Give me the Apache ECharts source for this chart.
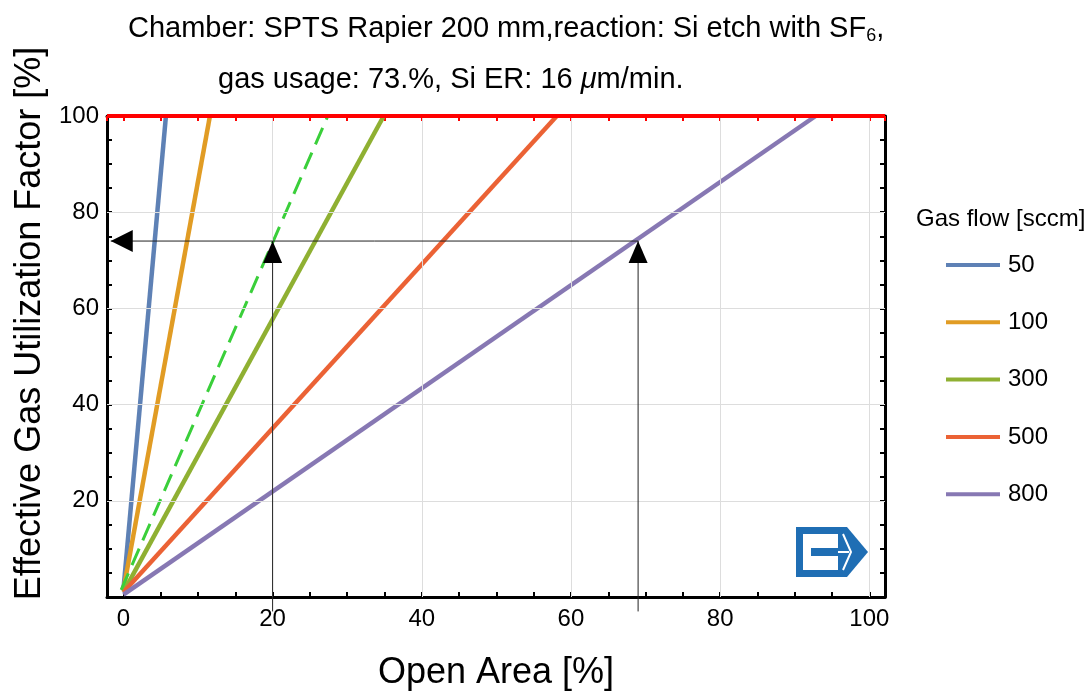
<!DOCTYPE html>
<html>
<head>
<meta charset="utf-8">
<script src="https://cdn.jsdelivr.net/npm/echarts@6/dist/echarts.min.js"></script>
<style>
  html, body { margin: 0; padding: 0; background: #fff; }
  #box1 { width: 1086px; height: 697px; }
</style>
</head>
<body>
<div id="box1"></div>
<script>
// gas flow lines: start at open area 0, reach 100 % at endX
var flowNames = ['50', '100', '300', '500', '800'];
var flowColors = ['#5E81B5', '#E19C24', '#8FB032', '#EB6235', '#8778B3'];
var startY = [1.5, 1.5, 1, 1, 0.5];
var endX = [5.7, 11.6, 34.9, 58.1, 92.8];

// dashed green line (73 % gas usage)
var dashedLine = [[-0.3, 1.5], [27.4, 100]];

// arrows: open area 20 % and 69 % at utilization 74 %
var arrowX = [20, 69];
var arrowY = 74;
var arrowLeftX = -1.7;

var xMin = -2.2, xMax = 102.1;
var xGrid = [20, 40, 60, 80, 100];
var yGrid = [20, 40, 60, 80];

var font = 'Liberation Sans, Arial, sans-serif';

var chartDom = document.getElementById('box1');
var myChart = echarts.init(chartDom);
var option;

var series = flowNames.map(function (name, i) {
    return {
        name: name,
        type: 'line',
        color: flowColors[i],
        showSymbol: false,
        lineStyle: { width: 4.5, color: flowColors[i] },
        data: [[0, startY[i]], [endX[i], 100]],
        z: 3
    };
});

series.push({
    name: 'dashed',
    type: 'line',
    showSymbol: false,
    lineStyle: { width: 3, color: '#3ACF3A', type: [18, 9] },
    data: dashedLine,
    z: 4
});

// 100 % limit
series.push({
    name: 'limit',
    type: 'line',
    showSymbol: false,
    lineStyle: { width: 4, color: '#FF0000' },
    data: [[xMin, 100], [xMax, 100]],
    clip: false,
    z: 6
});

// grid lines
series.push({
    name: 'grid',
    type: 'line',
    data: [],
    silent: true,
    markLine: {
        silent: true,
        symbol: 'none',
        label: { show: false },
        lineStyle: { color: '#dddddd', width: 1, type: 'solid' },
        animation: false,
        data: xGrid.map(function (v) { return { xAxis: v }; })
            .concat(yGrid.map(function (v) { return { yAxis: v }; }))
    },
    z: 1
});

arrowX.forEach(function (x, i) {
    series.push({
        name: 'arrow' + i,
        type: 'line',
        clip: false,
        symbol: 'none',
        lineStyle: { width: 1, color: '#222' },
        data: [
            { value: [x, -3], symbol: 'none' },
            { value: [x, arrowY], symbol: 'triangle', symbolSize: [19, 22], symbolOffset: [0, 11],
              itemStyle: { color: '#000' } }
        ],
        z: 5
    });
});

series.push({
    name: 'arrowLeft',
    type: 'line',
    clip: false,
    symbol: 'none',
    lineStyle: { width: 1, color: '#222' },
    data: [
        { value: [arrowX[1], arrowY], symbol: 'none' },
        { value: [arrowLeftX, arrowY], symbol: 'triangle', symbolSize: [22, 22], symbolRotate: 90,
          symbolOffset: [11, 0], itemStyle: { color: '#000' } }
    ],
    z: 5
});

var tickStyle = { show: true, inside: true, length: 5, lineStyle: { color: '#000', width: 2 } };

option = {
    animation: false,
    backgroundColor: '#fff',
    textStyle: { fontFamily: font },
    title: [
        {
            text: '{a|Chamber: SPTS Rapier 200 mm,reaction: Si etch with SF}{s|6}{a|,}',
            left: 123,
            top: 8,
            textStyle: {
                rich: {
                    a: { fontSize: 29, fontWeight: 'normal', fontFamily: font, color: '#000' },
                    s: { fontSize: 18, fontWeight: 'normal', fontFamily: font, color: '#000', padding: [14, 0, 0, 0] }
                }
            }
        },
        {
            text: '{a|gas usage: 73.%, Si ER: 16 }{i|\u03bc}{a|m/min.}',
            left: 213,
            top: 60,
            textStyle: {
                rich: {
                    a: { fontSize: 29, fontWeight: 'normal', fontFamily: font, color: '#000' },
                    i: { fontSize: 29, fontWeight: 'normal', fontFamily: font, color: '#000', fontStyle: 'italic' }
                }
            }
        },
        {
            text: 'Gas flow [sccm]',
            left: 911,
            top: 202,
            textStyle: { fontSize: 24, fontWeight: 'normal', fontFamily: font, color: '#000' }
        }
    ],
    legend: {
        data: flowNames,
        orient: 'vertical',
        left: 941,
        top: 246,
        icon: 'rect',
        itemWidth: 54,
        itemHeight: 4,
        itemGap: 29.3,
        textStyle: { fontSize: 24, fontFamily: font, color: '#000', lineHeight: 28, padding: [0, 0, 0, 3] }
    },
    grid: { left: 107, right: 201, top: 116, bottom: 100 },
    xAxis: [
        {
            type: 'value',
            min: xMin,
            max: xMax,
            splitNumber: 20,
            name: 'Open Area [%]',
            nameLocation: 'middle',
            nameGap: 58,
            nameTextStyle: { fontSize: 36, fontFamily: font, color: '#000' },
            axisLine: { show: true, onZero: false, lineStyle: { color: '#000', width: 3 } },
            axisTick: tickStyle,
            axisLabel: {
                fontSize: 24, color: '#000', margin: 10, fontFamily: font,
                showMinLabel: false, showMaxLabel: false,
                formatter: function (v) { return Math.abs(v % 20) < 1e-6 ? String(v) : ''; }
            },
            splitLine: { show: false }
        },
        {
            type: 'value',
            position: 'top',
            min: xMin,
            max: xMax,
            splitNumber: 20,
            axisLine: { show: true, onZero: false, lineStyle: { color: '#000', width: 3 } },
            axisTick: { show: true, inside: true, length: 5, lineStyle: { color: '#FF0000', width: 2 } },
            axisLabel: { show: false },
            splitLine: { show: false }
        }
    ],
    yAxis: [
        {
            type: 'value',
            min: 0,
            max: 100,
            interval: 5,
            name: 'Effective Gas Utilization Factor [%]',
            nameLocation: 'middle',
            nameGap: 56,
            nameTextStyle: { fontSize: 36, fontFamily: font, color: '#000', padding: [0, 0, 0, 66] },
            axisLine: { show: true, onZero: false, lineStyle: { color: '#000', width: 3 } },
            axisTick: tickStyle,
            axisLabel: {
                fontSize: 24, color: '#000', margin: 8, fontFamily: font,
                formatter: function (v) { return (v > 0 && v % 20 === 0) ? String(v) : ''; }
            },
            splitLine: { show: false }
        },
        {
            type: 'value',
            position: 'right',
            min: 0,
            max: 100,
            interval: 5,
            axisLine: { show: true, onZero: false, lineStyle: { color: '#000', width: 3 } },
            axisTick: tickStyle,
            axisLabel: { show: false },
            splitLine: { show: false }
        }
    ],
    // logo, bottom right
    graphic: [
        {
            type: 'polygon',
            shape: { points: [[796, 527], [847, 527], [868, 552], [847, 577], [796, 577]] },
            style: { fill: '#1F6EB4' },
            z: 10
        },
        {
            type: 'rect',
            shape: { x: 803, y: 534, width: 35, height: 14 },
            style: { fill: '#fff' },
            z: 11
        },
        {
            type: 'rect',
            shape: { x: 803, y: 556, width: 35, height: 14 },
            style: { fill: '#fff' },
            z: 11
        },
        {
            type: 'rect',
            shape: { x: 803, y: 547, width: 8, height: 10 },
            style: { fill: '#fff' },
            z: 11
        },
        {
            type: 'polyline',
            shape: { points: [[838, 552], [849, 552]] },
            style: { stroke: '#fff', lineWidth: 2 },
            z: 11
        },
        {
            type: 'polyline',
            shape: { points: [[843, 534], [851, 552], [843, 570]] },
            style: { stroke: '#fff', lineWidth: 2, fill: null },
            z: 11
        }
    ],
    series: series
};

myChart.setOption(option);
</script>
</body>
</html>
